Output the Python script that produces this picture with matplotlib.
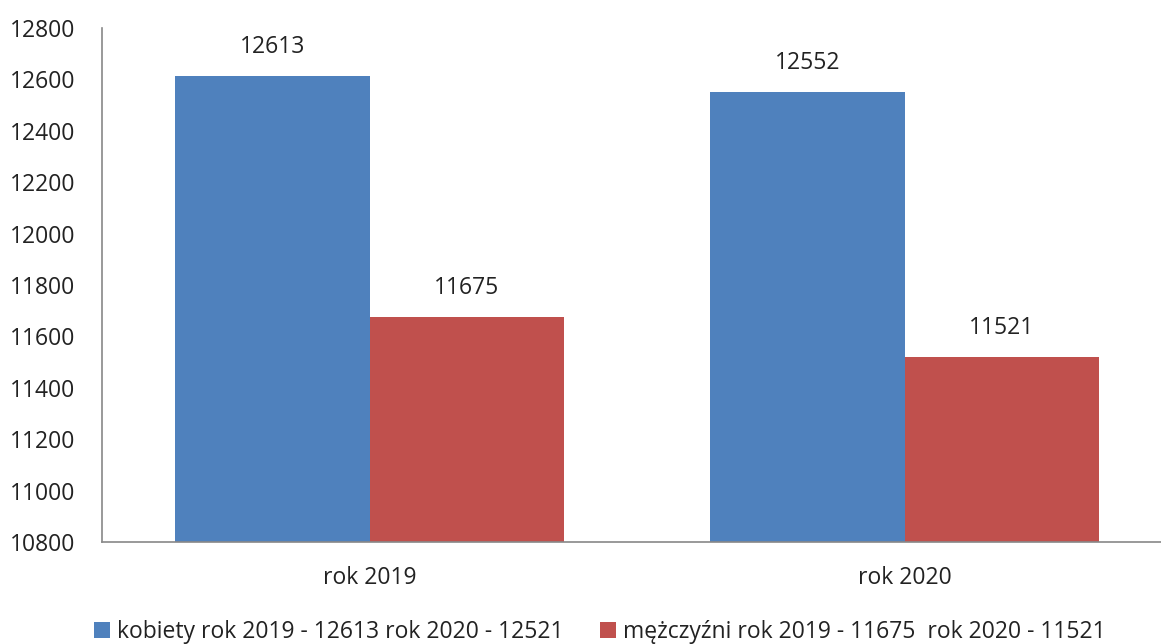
import numpy as np
import matplotlib.pyplot as plt

plt.rcParams['font.family'] = ['Open Sans', 'DejaVu Sans']

categories = ['rok 2019', 'rok 2020']
kobiety = [12613, 12552]
mezczyzni = [11675, 11521]
legend_labels = ['kobiety rok 2019 - 12613 rok 2020 - 12521',
                 'mężczyźni rok 2019 - 11675  rok 2020 - 11521']
yticks = np.arange(10800, 12801, 200)

blue = '#4F81BD'
red = '#C0504D'
fs = 16.5

fig = plt.figure(figsize=(11.61, 6.44), dpi=100)
ax = fig.add_axes([102 / 1161, 102 / 644, 1070 / 1161, 514 / 644])

x = np.arange(len(categories))
w = 0.3627
b1 = ax.bar(x - w / 2, kobiety, w, color=blue, label=legend_labels[0])
b2 = ax.bar(x + w / 2, mezczyzni, w, color=red, label=legend_labels[1])

for bars in (b1, b2):
    for rect in bars:
        v = rect.get_height()
        ax.annotate(str(v), (rect.get_x() + rect.get_width() / 2, v),
                    xytext=(0, 12), textcoords='offset points',
                    ha='center', va='bottom', fontsize=fs, color='#222222')

ax.set_ylim(10800, 12800)
ax.set_xlim(-0.5, 1.5)
ax.set_yticks(yticks)
ax.set_yticklabels([str(t) for t in yticks])
ax.set_xticks(x)
ax.set_xticklabels(categories)
ax.tick_params(axis='both', length=0, labelsize=fs, colors='#222222')
ax.tick_params(axis='y', pad=19)
ax.tick_params(axis='x', pad=17)

for s in ('top', 'right'):
    ax.spines[s].set_visible(False)
for s in ('left', 'bottom'):
    ax.spines[s].set_color('#888888')
    ax.spines[s].set_linewidth(1.2)

leg = fig.legend(handles=[b1, b2], loc='center', bbox_to_anchor=(600 / 1161, 12 / 644),
                 ncol=2, frameon=False, fontsize=fs, handlelength=0.7, handleheight=0.7,
                 handletextpad=0.3, columnspacing=1.6, borderaxespad=0)
for t in leg.get_texts():
    t.set_color('#222222')

fig.savefig('out.png', dpi=100)
